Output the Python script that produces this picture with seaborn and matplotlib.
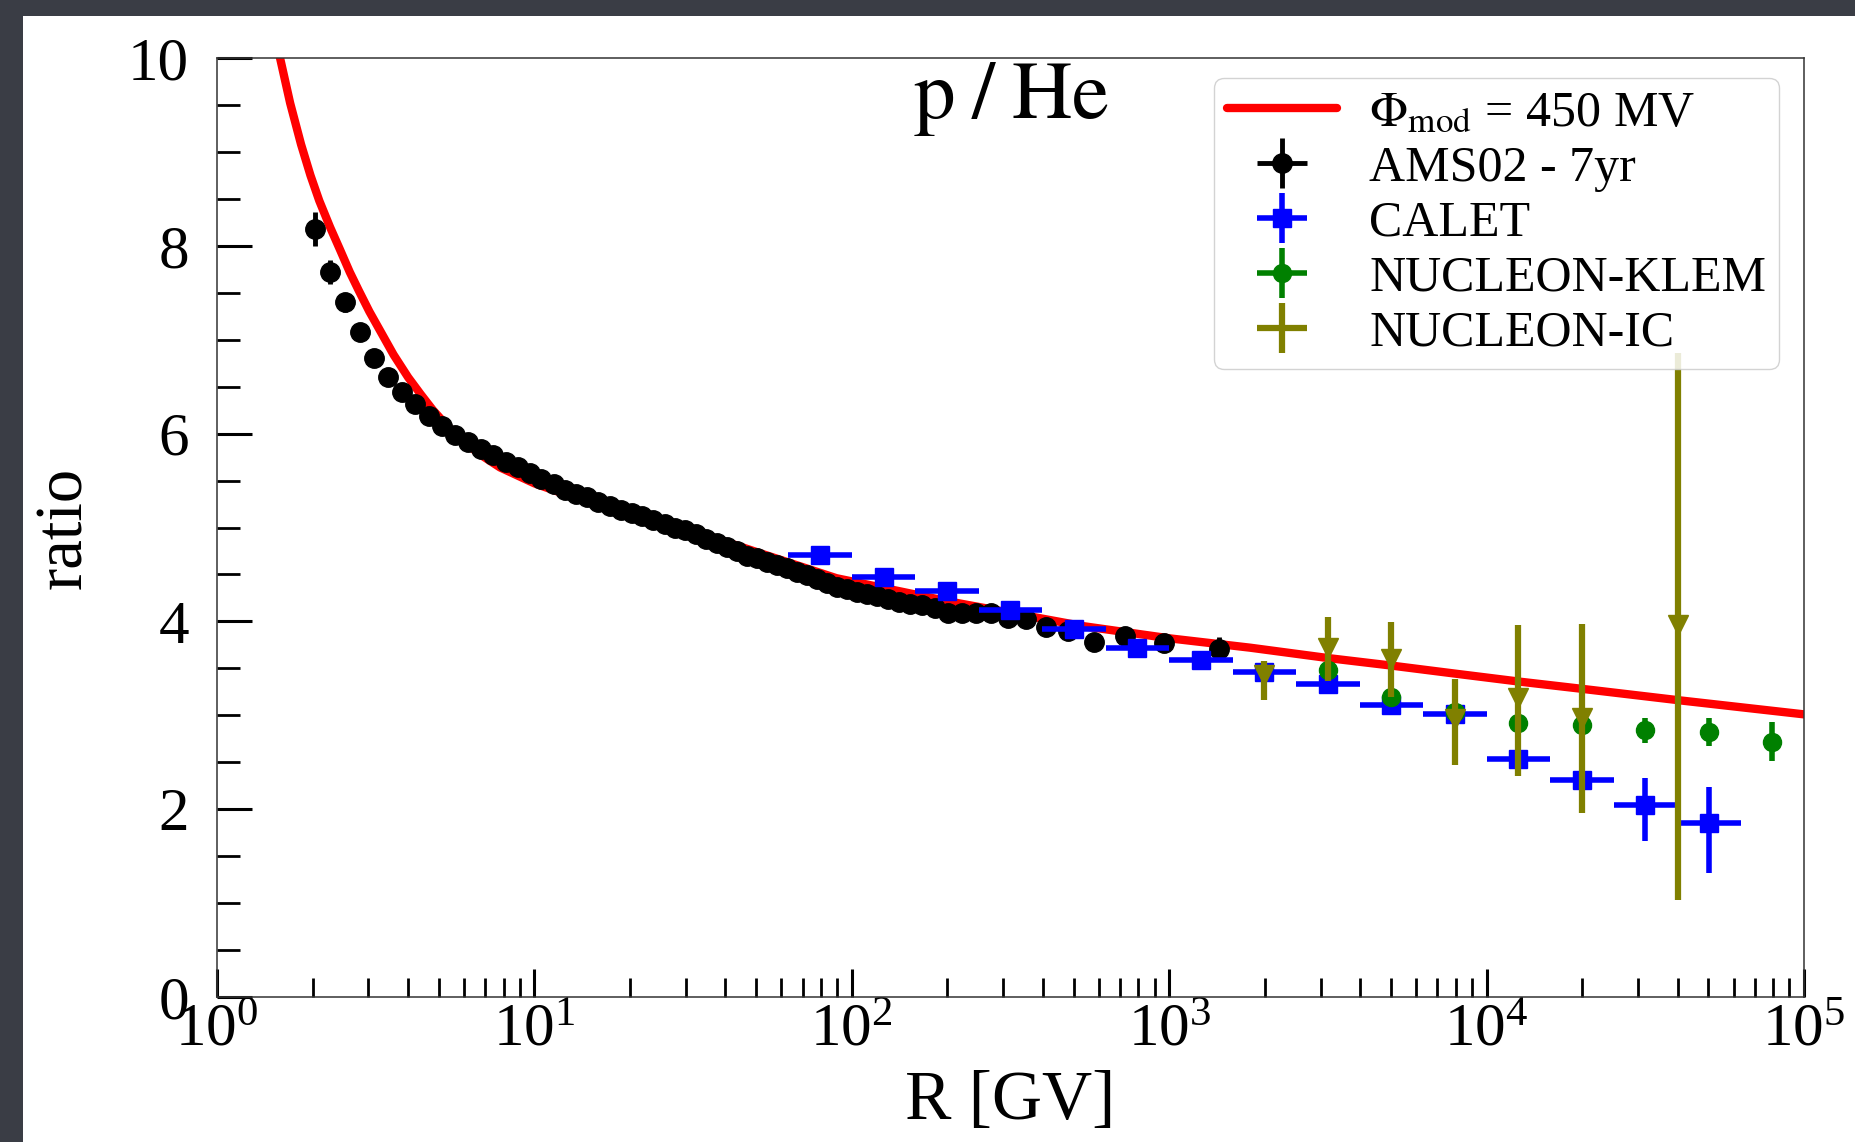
import numpy as np
import pandas as pd
import matplotlib
matplotlib.use("Agg")
import matplotlib.pyplot as plt
import seaborn as sns
from matplotlib.patches import Rectangle
from matplotlib.ticker import LogLocator, MultipleLocator, NullFormatter

# ---------------- data ----------------
model_R = [1.45, 1.58, 1.70, 1.84, 1.97, 2.1, 2.27, 2.44, 2.62, 2.8, 3.02, 3.26, 3.6,
           4.0, 4.38, 4.79, 5.35, 6.0, 6.8, 7.79, 10.0, 12.6, 16.1, 23.1, 33.2, 50.0,
           89.5, 204, 535, 1000, 1800, 3160, 5000, 8130, 12600, 20200, 40400, 100000]
model_ratio = [10.48, 10.0, 9.52, 9.08, 8.75, 8.48, 8.20, 7.96, 7.72, 7.52, 7.30, 7.10,
               6.84, 6.60, 6.42, 6.25, 6.07, 5.91, 5.77, 5.64, 5.47, 5.35, 5.25, 5.10,
               4.94, 4.74, 4.46, 4.21, 3.95, 3.82, 3.72, 3.61, 3.53, 3.44, 3.36, 3.28,
               3.16, 3.01]

ams_R = [2.03, 2.27, 2.53, 2.82, 3.13, 3.46, 3.83, 4.22, 4.65, 5.12, 5.63, 6.18, 6.77,
         7.42, 8.11, 8.86, 9.67, 10.5, 11.5, 12.5, 13.5, 14.6, 15.9, 17.3, 18.7, 20.3,
         21.9, 23.7, 25.7, 27.7, 29.9, 32.3, 34.8, 37.5, 40.4, 43.5, 46.8, 50.3, 54.1,
         58.2, 62.5, 67.2, 72.3, 77.6, 83.4, 89.7, 96.5, 104, 112, 120, 130, 141, 153,
         167, 183, 201, 222, 246, 275, 310, 354, 409, 481, 581, 727, 964, 1430]
ams_ratio = [8.18, 7.72, 7.40, 7.08, 6.81, 6.60, 6.44, 6.31, 6.19, 6.08, 5.99, 5.91,
             5.84, 5.77, 5.70, 5.64, 5.58, 5.52, 5.46, 5.40, 5.36, 5.32, 5.27, 5.23,
             5.19, 5.15, 5.12, 5.08, 5.04, 5.00, 4.97, 4.93, 4.88, 4.83, 4.79, 4.75,
             4.70, 4.67, 4.63, 4.60, 4.57, 4.53, 4.49, 4.45, 4.41, 4.37, 4.34, 4.31,
             4.29, 4.27, 4.24, 4.21, 4.19, 4.17, 4.14, 4.09, 4.09, 4.09, 4.09, 4.04,
             4.03, 3.94, 3.90, 3.78, 3.84, 3.77, 3.71]
ams_err = [0.18, 0.13, 0.10, 0.08, 0.07, 0.06, 0.05, 0.05, 0.05, 0.05, 0.04, 0.04,
           0.04, 0.04, 0.04, 0.04, 0.04, 0.04, 0.04, 0.04, 0.04, 0.04, 0.04, 0.04,
           0.04, 0.04, 0.04, 0.04, 0.04, 0.04, 0.04, 0.04, 0.04, 0.04, 0.04, 0.04,
           0.04, 0.04, 0.04, 0.04, 0.04, 0.04, 0.04, 0.04, 0.04, 0.04, 0.04, 0.04,
           0.04, 0.04, 0.04, 0.04, 0.04, 0.04, 0.04, 0.04, 0.04, 0.05, 0.05, 0.05,
           0.05, 0.05, 0.05, 0.06, 0.07, 0.08, 0.12]

calet_R = [79.4, 126, 200, 316, 501, 794, 1259, 1995, 3162, 5012, 7943, 12589,
           19953, 31623, 50119]
calet_R_lo = [63.1, 100, 158, 251, 398, 631, 1000, 1585, 2512, 3981, 6310, 10000,
              15849, 25119, 39811]
calet_R_hi = [100, 158, 251, 398, 631, 1000, 1585, 2512, 3981, 6310, 10000, 15849,
              25119, 39811, 63096]
calet_ratio = [4.71, 4.47, 4.32, 4.12, 3.92, 3.72, 3.59, 3.46, 3.33, 3.11, 3.01, 2.53,
               2.31, 2.04, 1.85]
calet_err_lo = [0.05, 0.05, 0.05, 0.05, 0.06, 0.07, 0.08, 0.07, 0.07, 0.07, 0.16, 0.14,
                0.10, 0.38, 0.53]
calet_err_hi = [0.05, 0.05, 0.05, 0.05, 0.06, 0.07, 0.08, 0.07, 0.07, 0.07, 0.16, 0.14,
                0.10, 0.29, 0.39]

klem_R = [3162, 5012, 7943, 12589, 19953, 31623, 50119, 79433]
klem_ratio = [3.48, 3.20, 3.04, 2.92, 2.90, 2.84, 2.82, 2.72]
klem_err = [0.08, 0.08, 0.08, 0.08, 0.09, 0.13, 0.15, 0.21]

ic_R = [1995, 3162, 5012, 7943, 12589, 19953, 40000]
ic_ratio = [3.43, 3.72, 3.60, 2.96, 3.18, 2.97, 3.96]
ic_err_lo = [0.27, 0.35, 0.41, 0.49, 0.83, 1.01, 2.93]
ic_err_hi = [0.15, 0.33, 0.39, 0.43, 0.78, 1.00, 2.90]

y_ticks = [0, 2, 4, 6, 8, 10]

# ---------------- style ----------------
sns.set_theme(style="ticks")
plt.rcParams["font.family"] = ["Liberation Serif", "DejaVu Serif"]
plt.rcParams["mathtext.fontset"] = "stix"
plt.rcParams["axes.linewidth"] = 1.1
plt.rcParams["axes.edgecolor"] = "#333333"
for k in ["text.color", "axes.labelcolor", "xtick.color", "ytick.color"]:
    plt.rcParams[k] = "black"

W, H = 1856, 1142
fig = plt.figure(figsize=(W / 100, H / 100), dpi=100, facecolor="#3a3d45")
fig.patches.append(Rectangle((23 / W, 0), 1 - 23 / W, (H - 16) / H,
                             transform=fig.transFigure, facecolor="white",
                             edgecolor="none", zorder=-10))
ax = fig.add_axes([217 / W, (H - 997) / H, (1804 - 217) / W, (997 - 58) / H])
ax.set_facecolor("white")
ax.set_xscale("log")

model_df = pd.DataFrame({"R": model_R, "ratio": model_ratio})
sns.lineplot(data=model_df, x="R", y="ratio", ax=ax, color="red", lw=6,
             sort=False, estimator=None, zorder=2, legend=False)
model_line = ax.lines[-1]
model_line.set_solid_joinstyle("round")

n_ams = len(ams_R)
ams = ax.errorbar(ams_R, ams_ratio, yerr=ams_err, xerr=np.zeros(n_ams), fmt="o",
                  color="black", ms=14, elinewidth=3.5, capsize=0, zorder=3)

c_R = np.array(calet_R)
calet = ax.errorbar(calet_R, calet_ratio,
                    xerr=[c_R - np.array(calet_R_lo), np.array(calet_R_hi) - c_R],
                    yerr=[calet_err_lo, calet_err_hi], fmt="s", color="blue", ms=13,
                    elinewidth=4, capsize=0, zorder=4)

klem = ax.errorbar(klem_R, klem_ratio, yerr=klem_err, xerr=np.zeros(len(klem_R)),
                   fmt="o", color="green", ms=13, elinewidth=4, capsize=0, zorder=5)

ic = ax.errorbar(ic_R, ic_ratio, yerr=[ic_err_lo, ic_err_hi], xerr=np.zeros(len(ic_R)),
                 fmt="none", ecolor="olive", elinewidth=4.5, capsize=0, zorder=6)
ax.plot(ic_R, ic_ratio, "v", color="olive", ms=15, ls="none", zorder=6.5)

ax.set_xlim(1, 1e5)
ax.set_ylim(0, 10)
ax.xaxis.set_major_locator(LogLocator(base=10, numticks=10))
ax.xaxis.set_minor_locator(LogLocator(base=10, subs=np.arange(2, 10), numticks=30))
ax.xaxis.set_minor_formatter(NullFormatter())
ax.set_yticks(y_ticks)
ax.yaxis.set_minor_locator(MultipleLocator(0.5))
ax.tick_params(axis="both", which="both", direction="in", top=False, right=False,
               color="black")
ax.tick_params(axis="x", which="major", length=20, width=2.2, pad=4, labelsize=44)
ax.tick_params(axis="x", which="minor", length=14, width=2.0)
ax.tick_params(axis="y", which="major", length=25, width=2.2, pad=20, labelsize=44)
ax.tick_params(axis="y", which="minor", length=16.5, width=2.0)

ax.set_xlabel("R [GV]", fontsize=50)
ax.xaxis.set_label_coords(0.5, -0.078)
ax.set_ylabel("ratio", fontsize=48)
ax.yaxis.set_label_coords(-0.077, 0.5)

ax.text(0.5, 0.936, r"$\mathrm{p\;/\;He}$", transform=ax.transAxes, ha="center",
        va="baseline", fontsize=60)

labels = [r"$\Phi_{\rm mod}$ = 450 MV", "AMS02 - 7yr", "CALET", "NUCLEON-KLEM",
          "NUCLEON-IC"]
leg = ax.legend([model_line, ams, calet, klem, ic], labels, loc="upper right",
                bbox_to_anchor=(0.984, 0.979), borderaxespad=0, fontsize=36,
                handlelength=2.2, handletextpad=0.65, labelspacing=0.17,
                borderpad=0.25, framealpha=0.85, fancybox=True, edgecolor="0.8")
leg.set_zorder(10)

fig.savefig("out.png", dpi=100, facecolor=fig.get_facecolor())
